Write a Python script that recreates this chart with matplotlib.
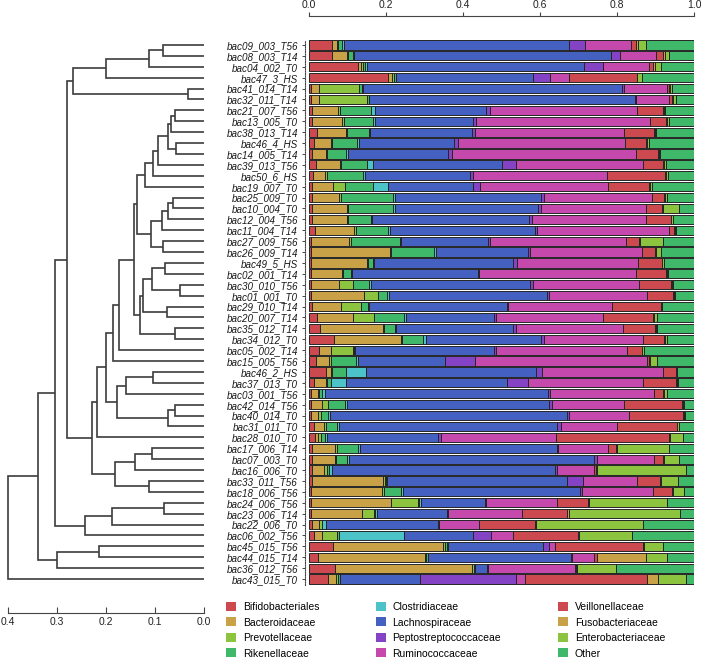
import numpy as np
import matplotlib
matplotlib.use("Agg")
import matplotlib.pyplot as plt
from matplotlib.patches import Patch

plt.rcParams['font.family'] = ['Liberation Sans', 'DejaVu Sans']

samples = ["bac09_003_T56", "bac08_003_T14", "bac04_002_T0", "bac47_3_HS", "bac41_014_T14",
           "bac32_011_T14", "bac21_007_T56", "bac13_005_T0", "bac38_013_T14", "bac46_4_HS",
           "bac14_005_T14", "bac39_013_T56", "bac50_6_HS", "bac19_007_T0", "bac25_009_T0",
           "bac10_004_T0", "bac12_004_T56", "bac11_004_T14", "bac27_009_T56", "bac26_009_T14",
           "bac49_5_HS", "bac02_001_T14", "bac30_010_T56", "bac01_001_T0", "bac29_010_T14",
           "bac20_007_T14", "bac35_012_T14", "bac34_012_T0", "bac05_002_T14", "bac15_005_T56",
           "bac46_2_HS", "bac37_013_T0", "bac03_001_T56", "bac42_014_T56", "bac40_014_T0",
           "bac31_011_T0", "bac28_010_T0", "bac17_006_T14", "bac07_003_T0", "bac16_006_T0",
           "bac33_011_T56", "bac18_006_T56", "bac24_006_T56", "bac23_006_T14", "bac22_006_T0",
           "bac06_002_T56", "bac45_015_T56", "bac44_015_T14", "bac36_012_T56", "bac43_015_T0"]

families = ["Bifidobacteriales", "Bacteroidaceae", "Prevotellaceae", "Rikenellaceae",
            "Clostridiaceae", "Lachnospiraceae", "Peptostreptococcaceae", "Ruminococcaceae",
            "Veillonellaceae", "Fusobacteriaceae", "Enterobacteriaceae", "Other"]

family_colors = ["#CC4A4F", "#C9A248", "#8CC440", "#3FB86A",
                 "#4CC3C9", "#4461C2", "#8443C4", "#C549AD",
                 "#CC4A4F", "#C9A248", "#8CC440", "#3FB86A"]

# relative abundance (%) per sample, top to bottom
bifido = [5.9,5.9,12.8,20.6,0.5,0.4,0.7,0.7,2.2,1.3, 0.8,1.8,1.1,0.7,0.7,0.7,0.7,1.6,0.4,0.4,
          0.4,0.4,0.4,0.4,0.7,2.0,2.9,6.6,2.7,1.8, 4.4,1.3,0.5,0.5,0.5,1.3,1.6,0.7,0.7,0.7,
          0.7,0.5,0.5,0.5,0.8,1.3,6.3,2.4,6.8,5.0]
bacteroid = [1.3,3.9,0.6,0.9,2.2,2.3,6.8,8.0,7.4,4.3, 3.6,6.3,3.1,5.6,7.2,9.1,9.1,10.1,10.1,20.6,
             14.6,8.1,7.5,13.9,7.6,9.5,16.4,17.2,3.0,3.5, 1.2,3.1,1.9,3.0,1.9,2.6,0.8,6.1,6.1,3.3,
             18.6,18.5,20.8,13.2,1.9,2.0,28.6,27.6,35.5,2.0]
prevot = [0.4,0.4,0.5,0.5,10.4,12.3,0.5,0.3,0.3,0.5, 0.3,0.3,0.6,3.1,0.3,0.3,0.4,0.4,0.5,0.2,
          0.2,0.4,3.6,3.7,5.2,5.5,0.3,0.3,5.6,0.4, 0.5,0.3,0.2,1.5,0.8,0.4,0.6,0.5,0.3,0.6,
          0.4,0.6,7.1,3.2,0.6,3.9,0.5,0.5,0.5,0.5]
riken = [1.1,1.3,0.7,0.5,0.6,0.5,8.1,7.7,5.8,6.3, 4.9,6.6,9.3,7.3,13.7,11.8,5.8,8.5,12.6,11.3,
         1.3,1.9,4.2,2.2,1.7,7.7,2.7,5.6,0.3,6.4, 3.5,1.1,0.7,4.4,1.8,2.9,1.2,5.3,2.7,0.7,
         0.3,4.2,0.3,0.3,0.2,0.5,0.4,0.5,0.4,0.5]
clostrid = [0.4,0.3,0.4,0.2,0.2,0.2,1.0,0.5,0.2,0.7, 0.4,1.5,0.4,3.9,0.5,0.4,0.3,0.4,0.2,0.5,
            0.3,0.3,0.5,0.6,0.5,0.5,0.4,0.6,0.3,0.5, 5.1,3.8,0.9,0.4,0.5,0.5,0.4,0.6,0.6,0.6,
            0.3,0.6,0.3,0.4,0.8,17.0,0.3,0.0,0.0,0.0]
lachno = [58.5,66.6,56.3,35.6,67.5,69.1,29.0,25.5,26.4,24.6, 26.0,33.5,27.3,22.1,37.9,37.3,40.9,37.7,22.8,24.0,
          36.1,32.7,41.2,40.9,35.6,22.9,30.2,29.9,36.2,22.7, 44.3,41.7,58.0,52.6,61.4,56.8,28.8,51.1,63.5,58.0,
          46.8,46.0,16.7,18.3,29.1,18.0,24.6,37.0,3.0,20.8]
pepto = [4.0,2.5,5.0,4.3,0.3,0.2,1.0,0.8,0.8,1.1, 1.1,3.8,0.7,1.7,0.8,0.6,0.6,0.6,0.4,0.4,
         1.0,0.4,0.8,0.7,0.4,0.5,0.9,0.9,0.5,7.8, 1.4,5.7,0.4,0.6,0.7,0.9,1.0,0.3,1.0,0.4,
         4.0,0.5,0.3,0.3,0.4,4.7,1.7,0.3,0.2,25.0]
rumino = [12.0,9.2,12.1,4.9,11.4,8.6,38.2,45.2,38.7,43.3, 47.8,33.0,35.0,33.3,27.9,27.3,29.7,34.3,35.3,29.0,
          31.6,40.7,27.6,25.5,26.9,27.7,27.8,25.7,34.1,44.8, 31.5,29.8,27.0,18.9,15.6,14.7,29.8,13.1,14.7,9.6,
          14.0,18.5,18.3,19.0,10.4,5.7,1.5,5.7,22.7,2.3]
veill = [1.4,1.9,1.0,17.6,0.4,0.6,6.6,4.0,7.8,5.4, 5.8,5.1,15.0,10.7,3.2,4.1,6.4,1.2,3.5,3.5,
         6.1,7.8,8.2,6.6,12.7,13.1,8.3,5.4,3.7,0.4, 3.4,8.5,2.4,14.9,13.9,15.4,29.3,2.0,2.4,0.6,
         6.1,4.9,8.1,11.9,14.5,16.9,22.9,0.7,0.3,31.6]
fuso = [0.5,0.4,0.5,0.2,0.3,0.3,0.3,0.2,0.2,0.3, 0.2,0.3,0.3,0.3,0.3,0.3,0.2,0.2,0.3,0.3,
        0.2,0.2,0.2,0.2,0.2,0.3,0.2,0.3,0.2,0.2, 0.2,0.2,0.3,0.3,0.3,0.2,0.3,0.3,0.3,0.3,
        0.2,0.2,0.3,0.4,0.2,0.2,0.3,12.8,0.2,3.0]
entero = [2.0,1.2,1.6,1.2,0.6,0.7,0.3,0.7,0.3,0.6, 0.3,0.5,0.5,0.4,0.6,4.3,0.5,0.3,5.9,1.1,
          0.4,0.3,0.3,0.3,0.3,0.6,0.2,0.4,0.3,1.8, 0.2,0.3,0.8,0.3,0.3,0.3,3.3,13.6,3.9,23.1,
          4.5,2.9,20.2,28.9,27.9,13.6,4.9,5.6,10.1,7.2]
other = [12.5,6.4,8.5,13.5,5.6,4.8,7.5,6.4,9.9,11.6, 8.8,7.3,6.7,10.9,6.9,3.8,5.4,4.7,8.0,8.7,
         7.8,6.8,5.5,5.0,8.2,9.7,9.7,7.1,13.1,9.7, 4.3,4.2,6.9,2.6,2.3,4.0,2.9,6.4,3.8,2.1,
         4.1,2.6,7.1,3.6,13.2,16.2,8.0,6.9,20.3,2.1]

series = [bifido, bacteroid, prevot, riken, clostrid, lachno, pepto, rumino, veill, fuso, entero, other]

# hierarchical clustering merges: (child a, child b, height); leaves 0..49, nodes 50+
merges = [
    (0, 1, 0.083), (50, 2, 0.112), (51, 3, 0.201), (4, 5, 0.032), (52, 53, 0.268),
    (6, 7, 0.059), (55, 8, 0.068), (9, 10, 0.057), (56, 57, 0.073), (58, 11, 0.093),
    (59, 12, 0.105), (60, 13, 0.120), (14, 15, 0.064), (62, 16, 0.073), (63, 17, 0.086),
    (18, 19, 0.083), (64, 65, 0.109), (61, 66, 0.136), (20, 21, 0.080), (22, 23, 0.049),
    (68, 69, 0.107), (24, 25, 0.076), (70, 71, 0.124), (26, 27, 0.059), (72, 73, 0.131),
    (67, 74, 0.142), (75, 28, 0.173), (76, 29, 0.185), (30, 31, 0.105), (78, 32, 0.159),
    (33, 34, 0.059), (80, 35, 0.073), (79, 81, 0.177), (77, 82, 0.200), (83, 36, 0.219),
    (37, 38, 0.107), (85, 39, 0.141), (40, 41, 0.112), (86, 87, 0.182), (84, 88, 0.228),
    (54, 89, 0.280), (42, 43, 0.082), (91, 44, 0.188), (92, 45, 0.243), (90, 93, 0.304),
    (46, 47, 0.214), (95, 48, 0.300), (94, 96, 0.338), (97, 49, 0.399),
]

dendro_ticks = [0.4, 0.3, 0.2, 0.1, 0.0]
bar_ticks = [0.0, 0.2, 0.4, 0.6, 0.8, 1.0]

W, H = 703, 662
PT = 0.72  # points per pixel at 100 dpi
fig = plt.figure(figsize=(W / 100, H / 100), dpi=100)

top_px, bot_px = 39.5, 584.5
ax = fig.add_axes([309 / W, 1 - bot_px / H, 385 / W, (bot_px - top_px) / H])
axd = fig.add_axes([8 / W, 1 - bot_px / H, 196 / W, (bot_px - top_px) / H])

n = len(samples)
y = np.arange(n)
data = np.array(series, dtype=float) / 100.0
left = np.zeros(n)
for vals, col in zip(data, family_colors):
    ax.barh(y, vals, left=left, height=0.84, color=col, edgecolor="#262626", linewidth=0.7)
    left += vals

ax.set_xlim(0, 1)
ax.set_ylim(n - 0.5, -0.5)
ax.xaxis.tick_top()
ax.tick_params(axis="y", length=3 * PT, width=0.7, color="#444444", pad=4 * PT,
               labelsize=7.1, labelcolor="#1a1a1a")
ax.tick_params(axis="x", length=4 * PT, width=0.8, color="#444444", pad=2 * PT,
               direction="out", labelsize=7.5, labelcolor="#222222")
ax.set_yticks(y)
ax.set_yticklabels(samples)
ax.set_xticks(bar_ticks)
ax.set_xticklabels([f"{t:.1f}" for t in bar_ticks])
for s in ["right", "bottom"]:
    ax.spines[s].set_visible(False)
ax.spines["top"].set_position(("outward", 23.5 * PT))
ax.spines["top"].set_bounds(0, 1)
ax.spines["top"].set_color("#444444")
ax.spines["top"].set_linewidth(0.8)
ax.spines["left"].set_position(("outward", 4 * PT))
ax.spines["left"].set_linestyle((0, (1, 1.2)))
ax.spines["left"].set_color("#444444")
ax.spines["left"].set_linewidth(0.8)

# dendrogram
pos = {i: (float(i), 0.0) for i in range(n)}
for k, (a, b, h) in enumerate(merges):
    ya, ha = pos[a]
    yb, hb = pos[b]
    axd.plot([ha, h, h, hb], [ya, ya, yb, yb], color="#3c3c3c", lw=1.2,
             solid_joinstyle="miter", solid_capstyle="butt", clip_on=False)
    pos[n + k] = ((ya + yb) / 2.0, h)

axd.set_xlim(0.4, 0.0)
axd.set_ylim(n - 0.5, -0.5)
axd.set_yticks([])
for s in ["top", "right", "left"]:
    axd.spines[s].set_visible(False)
axd.spines["bottom"].set_position(("outward", 28.5 * PT))
axd.spines["bottom"].set_color("#444444")
axd.spines["bottom"].set_linewidth(0.8)
axd.tick_params(axis="x", direction="in", length=6 * PT, width=0.8, color="#444444",
                pad=4 * PT, labelsize=7.5, labelcolor="#222222")
axd.set_xticks(dendro_ticks)
axd.set_xticklabels([f"{t:.1f}" for t in dendro_ticks])
axd.patch.set_visible(False)

handles = [Patch(facecolor=c, edgecolor="none") for c in family_colors]
fig.legend(handles, families, ncol=3, loc="upper left",
           bbox_to_anchor=(226 / W, 1 - 602 / H), frameon=False, fontsize=7.5,
           handlelength=0.95, handleheight=0.95, handletextpad=0.65,
           columnspacing=5.45, labelspacing=0.52, borderpad=0, borderaxespad=0)

# italic sample names (set after ticks are final)
fig.canvas.draw()
for t in ax.get_yticklabels():
    t.set_fontstyle("italic")
    t.set_fontsize(7.1)

fig.savefig("out.png", dpi=100)
